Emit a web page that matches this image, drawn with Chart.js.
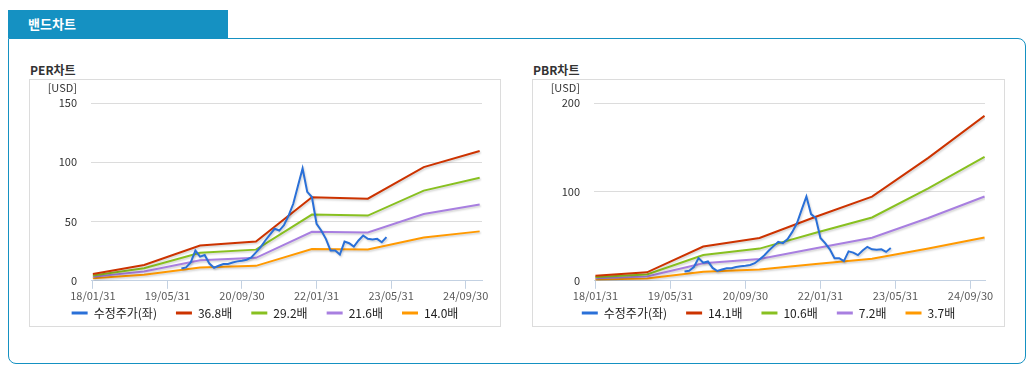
<!DOCTYPE html>
<html>
<head>
<meta charset="utf-8">
<script src="https://cdn.jsdelivr.net/npm/chart.js@4.4.1/dist/chart.umd.min.js"></script>
<style>
  body { margin: 0; background: #fff; font-family: 'Noto Sans CJK KR', 'Noto Sans', sans-serif; }
  .tab { position: absolute; left: 8px; top: 10px; width: 220px; height: 28px; background: #1591c2;
         color: #fff; font-weight: bold; font-size: 13px; line-height: 28px; box-sizing: border-box; padding-left: 20px; }
  .box { position: absolute; left: 8px; top: 38px; width: 1018px; height: 326px; box-sizing: border-box;
         border: 1px solid #1591c2; border-radius: 0 8px 8px 8px; }
  .ttl { position: absolute; top: 61px; font-size: 12px; font-weight: bold; color: #333; }
  .panel { position: absolute; top: 79px; height: 248px; box-sizing: border-box; border: 1px solid #dcdcdc; background: #fff; }
  canvas { display: block; position: absolute; left: 0; top: 0; }
</style>
</head>
<body>
<div class="tab">밴드차트</div>
<div class="box"></div>
<div class="ttl" style="left:30px">PER차트</div>
<div class="ttl" style="left:533px">PBR차트</div>
<div class="panel" style="left:29px; width:472px"><canvas id="per" width="470" height="249"></canvas></div>
<div class="panel" style="left:532px; width:473px"><canvas id="pbr" width="471" height="249"></canvas></div>
<script>
// x tick positions (months since 2018-01) and their labels
const tickMonths = [0, 16, 32, 48, 64, 80];
const tickLabels = ['18/01/31', '19/05/31', '20/09/30', '22/01/31', '23/05/31', '24/09/30'];

// band line dates (yearly)
const bandDates = ['2018-01', '2018-12', '2019-12', '2020-12', '2021-12', '2022-12', '2023-12', '2024-12'];

// adjusted share price, monthly
const priceDates = ['2019-08', '2019-09', '2019-10', '2019-11', '2019-12',
  '2020-01', '2020-02', '2020-03', '2020-04', '2020-05', '2020-06', '2020-07', '2020-08', '2020-09', '2020-10', '2020-11', '2020-12',
  '2021-01', '2021-02', '2021-03', '2021-04', '2021-05', '2021-06', '2021-07', '2021-08', '2021-09', '2021-10', '2021-11', '2021-12',
  '2022-01', '2022-02', '2022-03', '2022-04', '2022-05', '2022-06', '2022-07', '2022-08', '2022-09', '2022-10', '2022-11', '2022-12',
  '2023-01', '2023-02', '2023-03', '2023-04'];
const price = [10.4, 11.3, 15.5, 25.5, 20.4,
  21.8, 14.5, 11.0, 12.7, 14.2, 14.2, 15.5, 16.4, 17.0, 17.8, 19.8, 24.0,
  28.5, 34.0, 39.0, 43.9, 42.4, 47.0, 55.0, 65.0, 80.0, 94.8, 75.0, 70.7,
  48.1, 42.4, 35.4, 25.5, 25.5, 22.1, 33.1, 31.7, 28.9, 34.0, 38.2, 35.4,
  34.8, 35.4, 32.5, 36.8];

// PER bands
const perLabels = ['36.8배', '29.2배', '21.6배', '14.0배'];
const per368 = [5.7, 13.3, 29.7, 33.1, 70.5, 69.3, 95.9, 109.5];
const per292 = [4.5, 10.6, 23.6, 26.3, 55.9, 55.0, 76.1, 86.9];
const per216 = [3.4, 7.8, 17.4, 19.4, 41.4, 40.7, 56.3, 64.3];
const per140 = [2.2, 5.1, 11.3, 12.6, 26.8, 26.4, 36.5, 41.7];

// PBR bands
const pbrLabels = ['14.1배', '10.6배', '7.2배', '3.7배'];
const pbr141 = [5.7, 9.5, 38.6, 48.1, 72.0, 94.7, 138.3, 185.6];
const pbr106 = [4.3, 7.1, 29.0, 36.2, 54.1, 71.2, 104.0, 139.5];
const pbr72 = [2.9, 4.8, 19.7, 24.6, 36.7, 48.4, 70.6, 94.8];
const pbr37 = [1.5, 2.5, 10.1, 12.6, 18.9, 24.9, 36.3, 48.7];

const colors = ['#2a70d8', '#cc3300', '#88c020', '#a87fe0', '#ff9900'];
const fontFamily = "'Noto Sans CJK KR', 'Noto Sans', sans-serif";

function monthIndex(s) {
  const [y, m] = s.split('-').map(Number);
  return (y - 2018) * 12 + (m - 1);
}
function toXY(dates, vals) {
  return vals.map((v, i) => ({ x: monthIndex(dates[i]), y: v }));
}

// "[USD]" above the y tick labels
const usdPlugin = {
  id: 'usd',
  afterDraw(chart) {
    const ctx = chart.ctx;
    const y = chart.scales.y;
    ctx.save();
    ctx.font = '11px ' + fontFamily;
    ctx.fillStyle = '#333';
    ctx.textAlign = 'right';
    ctx.textBaseline = 'middle';
    ctx.fillText('[USD]', y.right - 14, chart.chartArea.top - 15);
    ctx.restore();
  }
};

// soft drop shadow under the lines
const shadowPlugin = {
  id: 'shadow',
  beforeDatasetDraw(chart) {
    const ctx = chart.ctx;
    ctx.save();
    ctx.shadowColor = 'rgba(0,0,0,0.18)';
    ctx.shadowBlur = 2;
    ctx.shadowOffsetX = 1;
    ctx.shadowOffsetY = 1.5;
  },
  afterDatasetDraw(chart) {
    chart.ctx.restore();
  }
};

// pull the legend closer to the x axis (keeps wide horizontal spacing)
// and centre it on the whole canvas instead of the padded area
const LEGEND_SHRINK = 14;
const legendTightPlugin = {
  id: 'legendTight',
  beforeLayout(chart) {
    const lg = chart.legend;
    if (lg && !lg._tight) {
      const fit = lg.fit;
      lg.fit = function () { fit.call(this); this.height -= LEGEND_SHRINK; };
      lg._tight = true;
    }
  },
  afterLayout(chart) {
    const lg = chart.legend;
    if (lg) {
      lg.top -= LEGEND_SHRINK;
      lg.right += chart.options.layout.padding.right;
    }
  }
};

function makeChart(id, bandLabels, bands, yMax, yStep, xMin, xMax, rightPad) {
  const datasets = [{
    label: '수정주가(좌)',
    data: toXY(priceDates, price),
    borderColor: colors[0],
    backgroundColor: colors[0],
    borderWidth: 2
  }];
  bands.forEach((b, i) => {
    datasets.push({
      label: bandLabels[i],
      data: toXY(bandDates, b),
      borderColor: colors[i + 1],
      backgroundColor: colors[i + 1],
      borderWidth: 2
    });
  });
  return new Chart(document.getElementById(id), {
    type: 'line',
    data: { datasets: datasets },
    plugins: [usdPlugin, shadowPlugin, legendTightPlugin],
    options: {
      responsive: false,
      animation: false,
      elements: { point: { radius: 0 }, line: { tension: 0 } },
      layout: { padding: { top: 23, right: rightPad, left: 0, bottom: 0 } },
      scales: {
        x: {
          type: 'linear',
          min: xMin,
          max: xMax,
          afterBuildTicks: (s) => { s.ticks = tickMonths.map(v => ({ value: v })); },
          ticks: {
            callback: (v) => tickLabels[tickMonths.indexOf(v)],
            color: '#5a5a5a',
            font: { size: 11, family: fontFamily },
            padding: 0,
            maxRotation: 0,
            autoSkip: false
          },
          grid: { drawOnChartArea: false, drawTicks: true, tickLength: 8, color: '#c3d1e2' },
          border: { color: '#c3d1e2' }
        },
        y: {
          min: 0,
          max: yMax,
          afterFit: (s) => { s.width = 61; },
          ticks: {
            stepSize: yStep,
            color: '#333',
            font: { size: 11, family: fontFamily },
            padding: 14
          },
          grid: { drawTicks: false, color: '#dcdcdc' },
          border: { display: false }
        }
      },
      plugins: {
        tooltip: { enabled: false },
        legend: {
          position: 'bottom',
          labels: {
            boxWidth: 16,
            boxHeight: 3,
            padding: 19,
            color: '#222',
            font: { size: 12, family: fontFamily },
            generateLabels: (chart) => Chart.defaults.plugins.legend.labels.generateLabels(chart)
              .map(l => Object.assign(l, { lineWidth: 0 }))
          }
        }
      }
    }
  });
}

makeChart('per', perLabels, [per368, per292, per216, per140], 150, 50, -0.4, 83.5, 18);
makeChart('pbr', pbrLabels, [pbr141, pbr106, pbr72, pbr37], 200, 100, -0.3, 83.1, 19);
</script>
</body>
</html>
